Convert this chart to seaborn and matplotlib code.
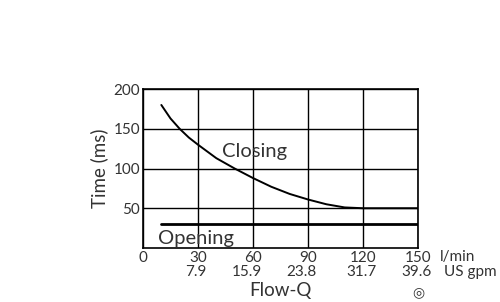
import matplotlib
matplotlib.use("Agg")
import matplotlib.pyplot as plt
import matplotlib.transforms as mtransforms
import seaborn as sns
import pandas as pd

closing_q = [10, 15, 20, 25, 30, 40, 50, 60, 70, 80, 90, 100, 110, 120, 130, 140, 150]
closing_t = [180, 163, 150, 139, 130, 113, 100, 88, 77, 68, 61, 55, 51, 50, 50, 50, 50]
opening_q = [10, 150]
opening_t = [30, 30]
x_ticks = [0, 30, 60, 90, 120, 150]
x_labels_lmin = ["0", "30", "60", "90", "120", "150"]
x_labels_gpm = ["", "7.9", "15.9", "23.8", "31.7", "39.6"]
y_ticks = [50, 100, 150, 200]

sns.set_style("white")
plt.rcParams['font.family'] = ['Lato', 'DejaVu Sans']
txt = "#333333"

fig = plt.figure(figsize=(5, 3.02), dpi=100)
ax = fig.add_axes([0.286, 0.179, 0.55, 0.526])

df_c = pd.DataFrame({"q": closing_q, "t": closing_t})
df_o = pd.DataFrame({"q": opening_q, "t": opening_t})
sns.lineplot(data=df_c, x="q", y="t", ax=ax, color="black", linewidth=1.4)
sns.lineplot(data=df_o, x="q", y="t", ax=ax, color="black", linewidth=2.0)

ax.set_xlim(0, 150)
ax.set_ylim(0, 200)
ax.set_xticks(x_ticks)
ax.set_xticklabels(x_labels_lmin)
ax.set_yticks(y_ticks)
ax.tick_params(axis="both", length=0, labelsize=11, colors=txt, pad=2)
ax.grid(True, color="black", linewidth=1.0)
for s in ax.spines.values():
    s.set_visible(True)
    s.set_color("black")
    s.set_linewidth(1.2)

ax.set_xlabel("")
ax.set_ylabel("Time (ms)", fontsize=13.5, color=txt, labelpad=4)
ax.text(0.5, -0.265, "Flow-Q", transform=ax.transAxes, fontsize=13.5, color=txt,
        va="center", ha="center")

ax.text(43, 121, "Closing", fontsize=14.5, color=txt, va="center", ha="left")
ax.text(8, 12, "Opening", fontsize=14.5, color=txt, va="center", ha="left")

# second row of tick labels (US gpm), right-aligned with the l/min labels
fig.canvas.draw()
renderer = fig.canvas.get_renderer()
blend = mtransforms.blended_transform_factory(fig.transFigure, ax.transAxes)
for lab, g in zip(ax.get_xticklabels(), x_labels_gpm):
    if not g:
        continue
    bb = lab.get_window_extent(renderer)
    ax.text(bb.x1 / fig.bbox.width, -0.178, g, transform=blend, fontsize=11,
            color=txt, ha="right", va="baseline")

ax.text(1.08, -0.083, "l/min", transform=ax.transAxes, fontsize=11, color=txt,
        va="baseline", ha="left")
ax.text(1.093, -0.178, "US gpm", transform=ax.transAxes, fontsize=11, color=txt,
        va="baseline", ha="left")
ax.text(1.0, -0.277, "◎", transform=ax.transAxes, fontsize=10, color=txt,
        va="center", ha="center", family=["DejaVu Sans"])

fig.savefig("out.png", dpi=100)
